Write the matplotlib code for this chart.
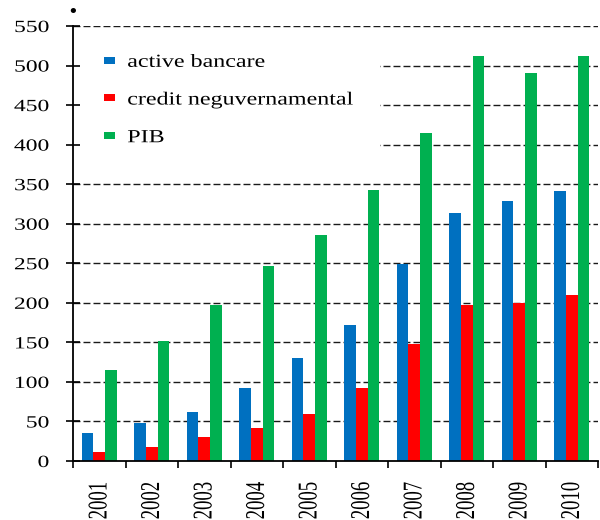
import numpy as np
import matplotlib
matplotlib.use("Agg")
import matplotlib.pyplot as plt
from matplotlib.patheffects import AbstractPathEffect
from matplotlib.transforms import Affine2D
from matplotlib.patches import Rectangle

years = ["2001", "2002", "2003", "2004", "2005", "2006", "2007", "2008", "2009", "2010"]
active_bancare = [35, 48, 62, 92, 130, 172, 249, 314, 329, 341]
credit_neguv = [11, 18, 30, 42, 59, 92, 148, 197, 200, 210]
pib = [115, 152, 197, 247, 286, 343, 415, 512, 491, 512]
series_names = ["active bancare", "credit neguvernamental", "PIB"]
colors = ["#0070C0", "#FF0000", "#00B050"]
yticks = list(range(0, 551, 50))


class Stretch(AbstractPathEffect):
    """Stretch glyphs along a local axis around an anchor of the glyph extents."""
    def __init__(self, s, axis="x", anchor="min"):
        super().__init__()
        self.s, self.axis, self.anchor = s, axis, anchor

    def draw_path(self, renderer, gc, tpath, affine, rgbFace=None):
        ext = tpath.get_extents()
        if self.axis == "x":
            lo, hi = ext.x0, ext.x1
        else:
            lo, hi = ext.y0, ext.y1
        a = {"min": lo, "max": hi, "center": 0.5 * (lo + hi)}[self.anchor]
        if self.axis == "x":
            t = Affine2D().translate(-a, 0).scale(self.s, 1).translate(a, 0)
        else:
            t = Affine2D().translate(0, -a).scale(1, self.s).translate(0, a)
        renderer.draw_path(gc, tpath, t + affine, rgbFace)


plt.rcParams["font.family"] = ["Liberation Serif", "DejaVu Serif"]

fig = plt.figure(figsize=(6, 5.2), dpi=100)
ax = fig.add_axes([73 / 600, 59 / 520, 525 / 600, 435 / 520])

x = np.arange(len(years))
w = 0.223
for i, (vals, name, c) in enumerate(zip([active_bancare, credit_neguv, pib], series_names, colors)):
    ax.bar(x + (i - 1) * w, vals, width=w, color=c, label=name, zorder=3, linewidth=0)

ax.set_xlim(-0.5, len(years) - 0.5)
ax.set_ylim(0, 550)
ax.set_yticks(yticks)
ax.set_yticklabels([str(v) for v in yticks])

# dashed horizontal grid (behind everything)
for v in yticks[1:]:
    ax.axhline(v, color="#1a1a1a", linestyle=(0, (5, 2.2)), linewidth=1.0, zorder=0.5)

# white backdrop behind the legend that hides the grid there
ax.add_patch(Rectangle((0, 0.68), 0.585, 0.30, transform=ax.transAxes,
                       facecolor="white", edgecolor="none", zorder=1))

for s in ["top", "right"]:
    ax.spines[s].set_visible(False)
for s in ["left", "bottom"]:
    ax.spines[s].set_linewidth(1.3)
    ax.spines[s].set_zorder(4)

ax.tick_params(axis="y", direction="inout", length=10.5, width=1.2, pad=12, labelsize=12.3)
ax.set_xticks(x)
ax.set_xticklabels(years, rotation=90)
ax.set_xticks(np.arange(-0.5, len(years)), minor=True)
ax.tick_params(axis="x", which="major", length=0, pad=15, labelsize=13.5)
ax.tick_params(axis="x", which="minor", direction="out", length=5, width=1.2)

for lab in ax.get_yticklabels():
    lab.set_path_effects([Stretch(1.38, "x", "max")])
for lab in ax.get_xticklabels():
    lab.set_path_effects([Stretch(1.45, "y", "center")])

leg = ax.legend(loc="upper left", bbox_to_anchor=(0.059, 0.936),
                borderaxespad=0, borderpad=0, fontsize=13.3, frameon=False,
                handlelength=0.62, handleheight=0.2, handletextpad=0.65,
                labelspacing=1.12)
leg.set_zorder(5)
for t in leg.get_texts():
    t.set_path_effects([Stretch(1.3, "x", "min")])

ax.text(0, 1.012, "•", transform=ax.transAxes, ha="center", va="bottom",
        fontsize=13, family="DejaVu Sans")

fig.savefig("out.png", dpi=100)
